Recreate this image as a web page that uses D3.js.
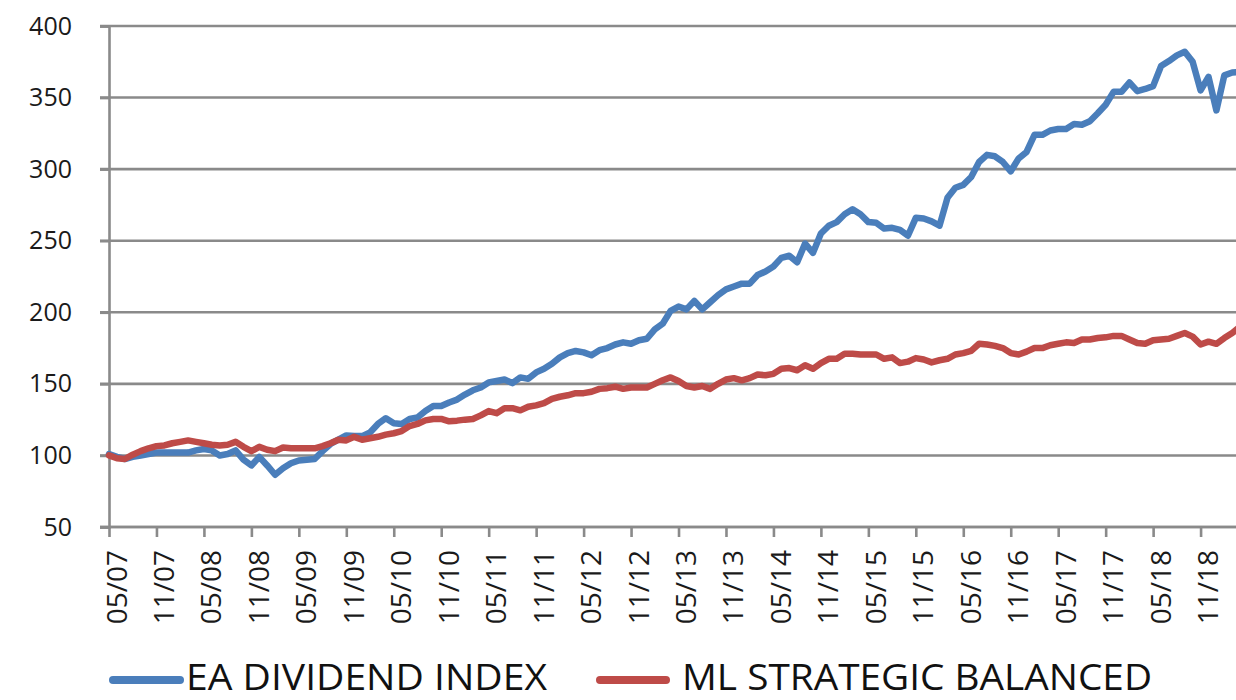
<!doctype html>
<html lang='en'>
<head>
    <meta charset='UTF-8'>
    <title>EA Dividend Index vs ML Strategic Balanced</title>
    <script src='https://cdn.jsdelivr.net/npm/d3@7/dist/d3.min.js'></script>
    <style>
        html, body { margin: 0; padding: 0; background: #fff; }
        svg { display: block; }
    </style>
</head>
<body>
    <div id='chart'></div>
    <script>
        const SIZE = { width: 1236, height: 700 };

        // monthly points, 05/2007 .. 04/2019
        const startMonth = new Date(2007, 4, 1);
        const tickLabels = ['05/07', '11/07', '05/08', '11/08', '05/09', '11/09', '05/10', '11/10',
            '05/11', '11/11', '05/12', '11/12', '05/13', '11/13', '05/14', '11/14',
            '05/15', '11/15', '05/16', '11/16', '05/17', '11/17', '05/18', '11/18'];
        const yTicks = [50, 100, 150, 200, 250, 300, 350, 400];

        const eaDividend = [
            101, 99, 97.5, 99, 100, 101, 102, 102, 102, 102, 102, 103.5,
            104.5, 103.5, 100, 101, 103.5, 97, 93, 99, 93, 86.5, 91, 94.5,
            96.5, 97, 97.5, 103, 108, 111, 114, 113.5, 113.5, 116, 122, 126,
            122.5, 122, 125.5, 126.5, 131, 134.5, 134.5, 137, 139, 142.5, 145.5, 147.5,
            151, 152, 153, 150.5, 154.5, 153.5, 158, 160.5, 164, 168.5, 171.5, 173,
            172, 170, 173.5, 175, 177.5, 179, 178, 180.5, 181.5, 188, 192, 201,
            204, 202, 208, 202, 207, 212, 216, 218, 220, 220, 226, 228.5,
            232, 238, 239.5, 235, 248, 241.5, 255, 260.5, 263, 268.5, 272, 268.5,
            263, 262.5, 258.5, 259, 257.5, 253.5, 266, 265.5, 263.5, 260.5, 280, 287,
            289, 294.5, 305, 310, 309, 305, 298.5, 307.5, 312, 324, 324, 327,
            328, 328, 331.5, 331, 333.5, 339, 345, 354, 354, 360.5, 354.5, 356,
            358, 372, 375.5, 379.5, 382, 375, 355, 364.5, 341, 365.5, 367.5, 368
        ];
        const mlStrategic = [
            100, 98, 97.5, 100.5, 103, 105, 106.5, 107, 108.5, 109.5, 110.5, 109.5,
            108.5, 107.5, 107, 107.5, 109.5, 106, 103, 106, 104, 103, 105.5, 105,
            105, 105, 105, 106.5, 108.5, 111, 110.5, 113, 111, 112, 113, 114.5,
            115.5, 117, 120.5, 122, 124.5, 125.5, 125.5, 123.8, 124.3, 125, 125.5, 128,
            131, 129.5, 133, 133, 131.5, 134, 135, 136.5, 139.5, 141, 142, 143.5,
            143.5, 144.5, 146.5, 147, 148, 146.5, 147.5, 147.5, 147.5, 150, 152.5, 154.5,
            152, 148.5, 147.5, 148.5, 146.5, 150, 153, 154, 152.5, 154, 156.5, 156,
            157, 160.5, 161, 159.5, 163, 160.5, 164.5, 167.5, 167.5, 171, 171, 170.5,
            170.5, 170.5, 167.5, 168.5, 164.5, 165.5, 168, 167, 165, 166.5, 167.5, 170.5,
            171.5, 173, 178, 177.5, 176.5, 175, 171.5, 170.5, 172.5, 175, 175, 177,
            178, 179, 178.5, 181, 181, 182, 182.5, 183.5, 183.5, 181, 178.5, 178,
            180.5, 181, 181.5, 183.5, 185.5, 183, 177.5, 179.5, 178, 182, 185.5, 190
        ];

        const series = [
            { name: 'EA DIVIDEND INDEX', color: '#4A7EBB', values: eaDividend },
            { name: 'ML STRATEGIC BALANCED', color: '#BE4B48', values: mlStrategic }
        ];

        const fmt = d3.timeFormat('%m/%y');
        const months = eaDividend.map(function (d, i) { return fmt(d3.timeMonth.offset(startMonth, i)); });

        const svg = d3.select('#chart').append('svg')
            .attr('width', SIZE.width).attr('height', SIZE.height)
            .style('font-family', '"Open Sans", "Noto Sans", sans-serif');

        const x = d3.scalePoint().domain(months).range([109, 109 + (months.length - 1) * 7.91]);
        const y = d3.scaleLinear().domain([50, 400]).range([527, 26]);

        // horizontal gridlines
        svg.append('g').selectAll('line').data(yTicks).join('line')
            .attr('x1', 100).attr('x2', SIZE.width)
            .attr('y1', function (d) { return y(d); }).attr('y2', function (d) { return y(d); })
            .attr('stroke', '#8a8a8a').attr('stroke-width', 2.6);

        // y axis
        const yAxis = svg.append('g').attr('transform', 'translate(109,0)')
            .call(d3.axisLeft(y).tickValues(yTicks).tickSize(9).tickPadding(28));
        yAxis.select('.domain').attr('stroke', '#8a8a8a').attr('stroke-width', 2.6);
        yAxis.selectAll('.tick line').attr('stroke', '#8a8a8a').attr('stroke-width', 2.6);
        yAxis.selectAll('text').attr('font-size', 25).attr('fill', '#1a1a1a')
            .attr('font-family', '"Open Sans", sans-serif');

        // x axis
        const xAxis = svg.append('g').attr('transform', 'translate(0,527)')
            .call(d3.axisBottom(x).tickValues(tickLabels).tickSize(10).tickSizeOuter(0));
        xAxis.select('.domain').attr('d', 'M100,0H' + SIZE.width)
            .attr('stroke', '#8a8a8a').attr('stroke-width', 2.6);
        xAxis.selectAll('.tick line').attr('stroke', '#8a8a8a').attr('stroke-width', 2.6);
        xAxis.selectAll('text')
            .attr('font-size', 28).attr('fill', '#1a1a1a')
            .attr('font-family', '"Open Sans", sans-serif')
            .attr('text-anchor', 'end')
            .attr('dy', null).attr('y', null)
            .attr('dominant-baseline', 'central')
            .attr('transform', 'translate(6,23) rotate(-90)');

        // lines
        const line = d3.line()
            .x(function (d, i) { return x(months[i]); })
            .y(function (d) { return y(d); })
            .curve(d3.curveLinear);

        svg.append('g').selectAll('path').data(series).join('path')
            .attr('d', function (s) { return line(s.values); })
            .attr('fill', 'none')
            .attr('stroke', function (s) { return s.color; })
            .attr('stroke-width', 6.5)
            .attr('stroke-linejoin', 'round')
            .attr('stroke-linecap', 'round');

        // legend
        const legendItems = [
            { x1: 113, x2: 180, tx: 186, tw: 361 },
            { x1: 600, x2: 666, tx: 682, tw: 470 }
        ];
        const legend = svg.append('g').selectAll('g').data(series).join('g');
        legend.append('line')
            .attr('x1', function (s, i) { return legendItems[i].x1; })
            .attr('x2', function (s, i) { return legendItems[i].x2; })
            .attr('y1', 680).attr('y2', 680)
            .attr('stroke', function (s) { return s.color; })
            .attr('stroke-width', 8)
            .attr('stroke-linecap', 'round');
        legend.append('text')
            .attr('x', function (s, i) { return legendItems[i].tx; })
            .attr('y', 690)
            .attr('font-size', 36)
            .attr('fill', '#111')
            .attr('textLength', function (s, i) { return legendItems[i].tw; })
            .attr('lengthAdjust', 'spacingAndGlyphs')
            .text(function (s) { return s.name; });
    </script>
</body>
</html>
